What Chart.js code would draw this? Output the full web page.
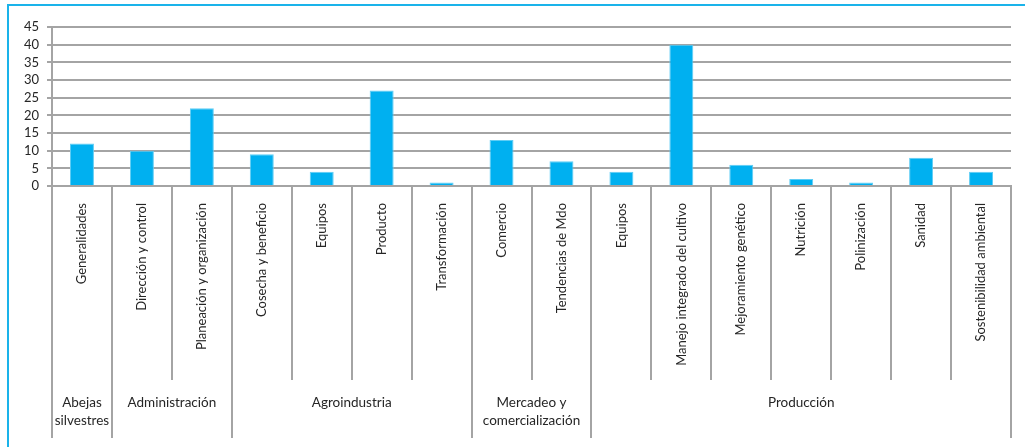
<!DOCTYPE html>
<html>
<head>
<meta charset="utf-8">
<script src="https://cdn.jsdelivr.net/npm/chart.js@4.4.1/dist/chart.umd.min.js"></script>
<style>
  html, body { margin: 0; padding: 0; background: #ffffff; }
  #wrap { position: relative; width: 1025px; height: 447px; overflow: hidden; }
  #frame { position: absolute; left: 7px; top: 4px; right: -10px; bottom: -10px;
           border-left: 2px solid #1ab3ea; border-top: 2px solid #1ab3ea; pointer-events: none; }
  canvas { position: absolute; left: 0; top: 0; }
</style>
</head>
<body>
<div id="wrap">
  <canvas id="chart" width="1025" height="447"></canvas>
  <div id="frame"></div>
</div>
<script>
// Topics (lower axis) and how many documents fall under each one
const categories = [
  'Generalidades',
  'Dirección y control', 'Planeación y organización',
  'Cosecha y beneficio', 'Equipos', 'Producto', 'Transformación',
  'Comercio', 'Tendencias de Mdo',
  'Equipos', 'Manejo integrado del cultivo', 'Mejoramiento genético', 'Nutrición',
  'Polinización', 'Sanidad', 'Sostenibilidad ambiental'
];
const values = [12, 10, 22, 9, 4, 27, 1, 13, 7, 4, 40, 6, 2, 1, 8, 4];

// Main groups shown on the second axis row, and how many topics each spans
const groupNames = [
  ['Abejas', 'silvestres'],
  ['Administración'],
  ['Agroindustria'],
  ['Mercadeo y', 'comercialización'],
  ['Producción']
];
const groupSizes = [1, 2, 4, 2, 7];

const yTicks = [0, 5, 10, 15, 20, 25, 30, 35, 40, 45];

const FONT = 'Lato, "Open Sans", sans-serif';
const GRID = '#a4a4a4';

// Draws the category dividers, the longer group dividers and the group names
const groupAxis = {
  id: 'groupAxis',
  afterDraw(chart) {
    const { ctx, chartArea } = chart;
    const x = chart.scales.x;
    const top = chartArea.bottom;
    const shortEnd = top + 194;
    const longEnd = top + 252;
    const n = categories.length;
    const edge = i => {
      if (i === 0) return chartArea.left;
      if (i === n) return chartArea.right;
      return (x.getPixelForValue(i - 1) + x.getPixelForValue(i)) / 2;
    };
    const groupEdges = [0];
    groupSizes.forEach(s => groupEdges.push(groupEdges[groupEdges.length - 1] + s));

    ctx.save();
    ctx.strokeStyle = GRID;
    ctx.lineWidth = 2;
    for (let i = 0; i <= n; i++) {
      const px = Math.round(edge(i));
      const isGroup = groupEdges.includes(i);
      ctx.beginPath();
      ctx.moveTo(px, top);
      ctx.lineTo(px, isGroup ? longEnd : shortEnd);
      ctx.stroke();
    }
    ctx.fillStyle = '#262626';
    ctx.font = '13.5px ' + FONT;
    ctx.textAlign = 'center';
    ctx.textBaseline = 'middle';
    groupNames.forEach((lines, g) => {
      const cx = (edge(groupEdges[g]) + edge(groupEdges[g + 1])) / 2;
      lines.forEach((t, k) => ctx.fillText(t, cx, top + 217 + k * 18));
    });
    ctx.restore();
  }
};

new Chart(document.getElementById('chart'), {
  type: 'bar',
  data: {
    labels: categories,
    datasets: [{
      data: values,
      backgroundColor: '#00b0f0',
      borderColor: '#5fcdf5',
      borderWidth: 1,
      barPercentage: 0.4,
      categoryPercentage: 1.0
    }]
  },
  options: {
    responsive: false,
    animation: false,
    devicePixelRatio: 1,
    layout: { padding: { left: 0, right: 14, top: 27, bottom: 0 } },
    plugins: { legend: { display: false }, tooltip: { enabled: false } },
    scales: {
      x: {
        type: 'category',
        offset: true,
        grid: { display: true, drawOnChartArea: false, drawTicks: false },
        border: { display: true, color: GRID, width: 2 },
        ticks: {
          autoSkip: false,
          maxRotation: 90,
          minRotation: 90,
          padding: 17,
          color: '#262626',
          font: { family: FONT, size: 13 }
        },
        afterFit(scale) { scale.height = 261; }
      },
      y: {
        min: 0,
        max: 45,
        afterBuildTicks(scale) { scale.ticks = yTicks.map(v => ({ value: v })); },
        grid: { color: GRID, lineWidth: 2, tickLength: 5 },
        border: { display: true, color: GRID, width: 2 },
        ticks: {
          autoSkip: false,
          padding: 8,
          color: '#262626',
          font: { family: FONT, size: 13 }
        },
        afterFit(scale) { scale.width = 52; }
      }
    }
  },
  plugins: [groupAxis]
});
</script>
</body>
</html>
